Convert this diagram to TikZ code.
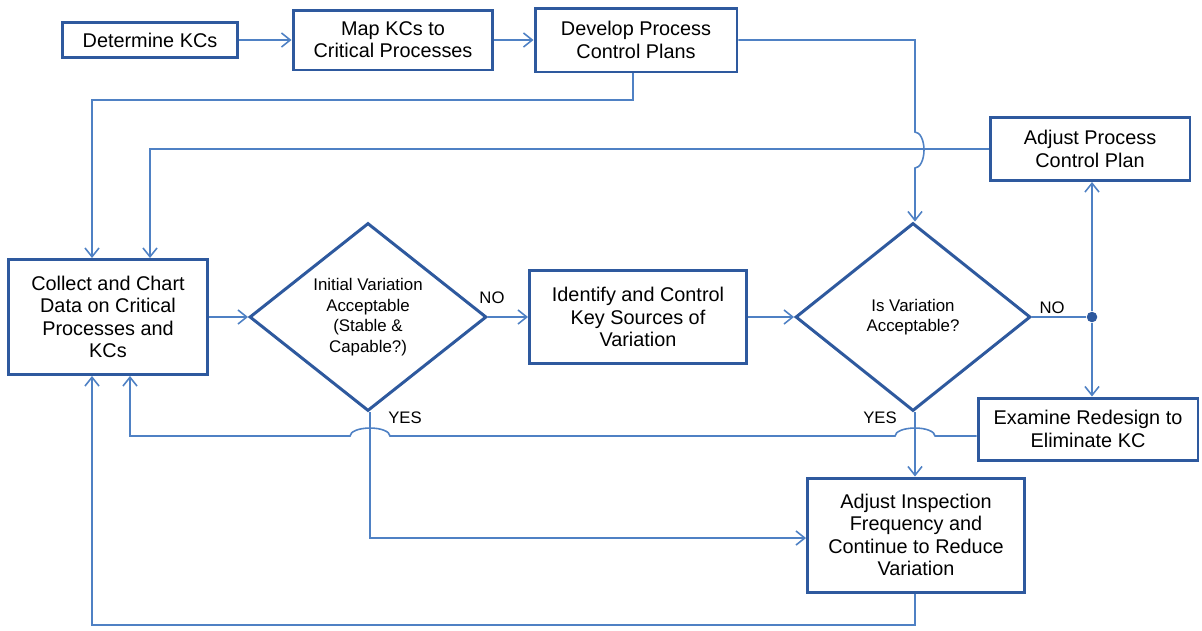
\documentclass[tikz,border=0pt]{standalone}
\usepackage{fontspec}
\setmainfont{Liberation Sans}
\usetikzlibrary{shapes.geometric, arrows.meta, calc}
\definecolor{boxblue}{RGB}{46,89,158}
\definecolor{lineblue}{RGB}{79,129,196}
\tikzset{
    box/.style={draw=boxblue, line width=1.7pt, fill=white, align=center,
        inner sep=2pt, font=\fontsize{11.3}{12.7}\selectfont},
    decide/.style={diamond, draw=boxblue, line width=1.7pt, fill=white,
        align=center, inner sep=0pt, font=\fontsize{9.6}{11.8}\selectfont},
    conn/.style={draw=lineblue, line width=0.9pt},
    arr/.style={conn, -{Straight Barb[length=5pt, width=8pt]}},
    tag/.style={font=\fontsize{9.5}{11}\selectfont, inner sep=1pt},
}

\begin{document}
\begin{tikzpicture}[x=0.02cm, y=-0.02cm]
    \useasboundingbox (0,0) rectangle (1202,630);

    % top row
    \node[box, minimum width=3.5cm, minimum height=0.7cm] (det) at (150,40) {Determine KCs};
    \node[box, minimum width=4cm, minimum height=1.2cm] (mapkc) at (393,40) {Map KCs to\\Critical Processes};
    \node[box, minimum width=4.04cm, minimum height=1.28cm] (devplan) at (636,40) {Develop Process\\Control Plans};
    \node[box, minimum width=4cm, minimum height=1.26cm] (adjplan) at (1090,149) {Adjust Process\\Control Plan};

    % middle row
    \node[box, minimum width=4cm, minimum height=2.3cm] (collect) at (108,317)
        {Collect and Chart\\Data on Critical\\Processes and\\KCs};
    \node[decide, minimum width=4.74cm, minimum height=3.76cm] (initvar) at (368,317)
        {Initial Variation\\Acceptable\\(Stable \&\\Capable?)};
    \node[box, minimum width=4.34cm, minimum height=1.86cm] (identify) at (638,317)
        {Identify and Control\\Key Sources of\\Variation};
    \node[decide, minimum width=4.7cm, minimum height=3.76cm] (isvar) at (913,317)
        {Is Variation\\Acceptable?};
    \node[circle, fill=boxblue, inner sep=0pt, minimum size=6pt] (split) at (1092,317) {};

    % bottom row
    \node[box, minimum width=4.4cm, minimum height=1.24cm] (examine) at (1088,429)
        {Examine Redesign to\\Eliminate KC};
    \node[box, minimum width=4.34cm, minimum height=2.28cm] (adjinsp) at (916,535)
        {Adjust Inspection\\Frequency and\\Continue to Reduce\\Variation};

    \node[tag] (no1) at (492,298) {NO};
    \node[tag] (no2) at (1052,308) {NO};
    \node[tag] (yes1) at (405,418) {YES};
    \node[tag] (yes2) at (880,418) {YES};

    % connectors
    \draw[arr] (det) -- (mapkc);
    \draw[arr] (mapkc) -- (devplan);
    \draw[arr] (devplan.south -| 633,0) -- (633,100) -| (collect.north -| 92,0);
    \draw[arr] (adjplan.west) -| (collect.north -| 150,0);
    \draw[arr] (devplan.east) -| (915,132) arc (90:-90:0.18cm and 0.36cm) -- (isvar.north -| 915,0);
    \draw[arr] (collect.east) -- (initvar.west);
    \draw[arr] (initvar.east) -- (identify.west);
    \draw[arr] (identify.east) -- (isvar.west);
    \draw[conn] (isvar.east) -- (split);
    \draw[arr] (split) -- (adjplan.south -| split);
    \draw[arr] (split) -- (examine.north -| split);
    \draw[arr] (isvar.south -| 915,0) -- (adjinsp.north -| 915,0);
    \draw[arr] (initvar.south -| 370,0) -- (370,538) -- (adjinsp.west |- 0,538);
    \draw[arr] (examine.west |- 0,436) -- (935,436) arc (0:180:0.4cm and 0.16cm) -- (390,436)
        arc (0:180:0.4cm and 0.16cm) -- (130,436) -- (collect.south -| 130,0);
    \draw[arr] (adjinsp.south -| 915,0) -- (915,625) -- (92,625) -- (collect.south -| 92,0);
\end{tikzpicture}
\end{document}
